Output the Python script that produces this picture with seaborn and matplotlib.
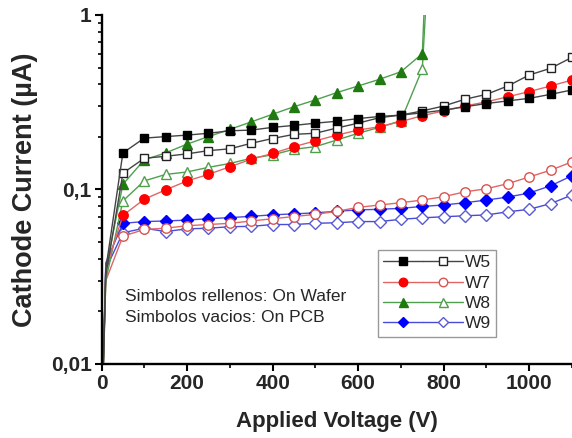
import matplotlib
matplotlib.use("Agg")
import matplotlib.pyplot as plt
import seaborn as sns
from matplotlib.lines import Line2D
from matplotlib.legend_handler import HandlerTuple
from matplotlib.ticker import FixedLocator, LogLocator, NullFormatter, FixedFormatter, MultipleLocator

# ---------------- data ----------------
voltage = [0, 10, 50, 100, 150, 200, 250, 300, 350, 400, 450, 500, 550,
           600, 650, 700, 750, 800, 850, 900, 950, 1000, 1050, 1100]

w5_wafer = [0.004, 0.035, 0.162, 0.197, 0.201, 0.205, 0.210, 0.217, 0.219, 0.227, 0.233, 0.240,
            0.246, 0.255, 0.262, 0.267, 0.275, 0.285, 0.298, 0.311, 0.322, 0.333, 0.351, 0.372]
w5_pcb = [0.004, 0.032, 0.124, 0.151, 0.155, 0.160, 0.167, 0.171, 0.184, 0.196, 0.207, 0.210,
          0.225, 0.240, 0.258, 0.267, 0.282, 0.301, 0.329, 0.351, 0.392, 0.453, 0.495, 0.572]
w7_wafer = [0.004, 0.035, 0.071, 0.088, 0.0995, 0.112, 0.122, 0.135, 0.149, 0.161, 0.176, 0.190,
            0.205, 0.219, 0.229, 0.245, 0.265, 0.282, 0.301, 0.318, 0.340, 0.364, 0.392, 0.424]
w7_pcb = [0.004, 0.030, 0.054, 0.059, 0.060, 0.062, 0.063, 0.064, 0.066, 0.068, 0.070, 0.072,
          0.075, 0.079, 0.0815, 0.084, 0.087, 0.091, 0.097, 0.101, 0.108, 0.118, 0.129, 0.144]
w9_wafer = [0.004, 0.038, 0.064, 0.0655, 0.066, 0.0668, 0.068, 0.069, 0.0702, 0.0716, 0.0725, 0.0735,
            0.075, 0.0764, 0.077, 0.078, 0.080, 0.0815, 0.084, 0.087, 0.0905, 0.0955, 0.105, 0.120]
w9_pcb = [0.004, 0.035, 0.0565, 0.060, 0.0574, 0.0595, 0.060, 0.0612, 0.0615, 0.063, 0.063, 0.064,
          0.0645, 0.0655, 0.0655, 0.0675, 0.0688, 0.0698, 0.0707, 0.0715, 0.0745, 0.077, 0.083, 0.093]

# W8 breaks down just above 750 V
voltage_w8_wafer = [0, 10, 50, 100, 150, 200, 250, 300, 350, 400, 450, 500, 550, 600, 650, 700, 750, 762]
w8_wafer = [0.004, 0.035, 0.107, 0.148, 0.162, 0.182, 0.201, 0.221, 0.244, 0.270, 0.298, 0.326,
            0.359, 0.392, 0.428, 0.473, 0.600, 3.0]
voltage_w8_pcb = [0, 10, 50, 100, 150, 200, 250, 300, 350, 400, 450, 500, 550, 600, 650, 700, 750, 768]
w8_pcb = [0.004, 0.030, 0.086, 0.112, 0.122, 0.126, 0.134, 0.141, 0.151, 0.158, 0.170, 0.176,
          0.192, 0.210, 0.227, 0.248, 0.490, 3.0]

labels = ["W5", "W7", "W8", "W9"]
y_ticks = [0.01, 0.1, 1]
y_tick_labels = ["0,01", "0,1", "1"]
x_ticks = [0, 200, 400, 600, 800, 1000]
x_tick_labels = ["0", "200", "400", "600", "800", "1000"]
note_lines = ["Simbolos rellenos: On Wafer", "Simbolos vacios: On PCB"]

# ---------------- style ----------------
sns.set_style("ticks")
plt.rcParams["font.family"] = ["Liberation Sans", "DejaVu Sans"]

fig = plt.figure(figsize=(5.72, 4.38), dpi=100)
ax = fig.add_axes([101.5 / 572, (438 - 364) / 438, (572 - 101.5) / 572, (364 - 15) / 438])

styles = {
    "W5": dict(mk="s", ms=6.0, fill="#000000", edge_open="#222222", line="#444444"),
    "W7": dict(mk="o", ms=6.8, fill="#ff0000", edge_open="#d9534f", line="#e06666"),
    "W8": dict(mk="^", ms=7.2, fill="#1f7a0f", edge_open="#4f9f4f", line="#4f9f4f"),
    "W9": dict(mk="D", ms=5.8, fill="#0000ff", edge_open="#5b5bd0", line="#4a4ad8"),
}


def draw(v, y, key, filled, mark_idx):
    st = styles[key]
    sns.lineplot(
        x=v, y=y, ax=ax, color=st["line"], lw=1.0, sort=False, estimator=None,
        marker=st["mk"], markersize=st["ms"],
        markerfacecolor=st["fill"] if filled else "white",
        markeredgecolor=st["fill"] if filled else st["edge_open"],
        markeredgewidth=1.0, markevery=mark_idx,
    )


full_idx = list(range(2, len(voltage)))
w8_idx = list(range(2, len(voltage_w8_wafer) - 1))

draw(voltage, w9_pcb, "W9", False, full_idx)
draw(voltage, w9_wafer, "W9", True, full_idx)
draw(voltage, w7_pcb, "W7", False, full_idx)
draw(voltage_w8_pcb, w8_pcb, "W8", False, w8_idx)
draw(voltage, w7_wafer, "W7", True, full_idx)
draw(voltage_w8_wafer, w8_wafer, "W8", True, w8_idx)
draw(voltage, w5_pcb, "W5", False, full_idx)
draw(voltage, w5_wafer, "W5", True, full_idx)

ax.set_yscale("log")
ax.set_ylim(0.01, 1)
ax.set_xlim(0, 1100)

ax.yaxis.set_major_locator(FixedLocator(y_ticks))
ax.yaxis.set_major_formatter(FixedFormatter(y_tick_labels))
ax.yaxis.set_minor_locator(LogLocator(base=10, subs=range(2, 10)))
ax.yaxis.set_minor_formatter(NullFormatter())
ax.xaxis.set_major_locator(FixedLocator(x_ticks))
ax.xaxis.set_major_formatter(FixedFormatter(x_tick_labels))
ax.xaxis.set_minor_locator(MultipleLocator(100))

for side in ["top", "right"]:
    ax.spines[side].set_visible(False)
for side in ["left", "bottom"]:
    ax.spines[side].set_linewidth(1.7)
    ax.spines[side].set_color("black")

ax.tick_params(which="major", direction="out", length=5, width=1.5, color="black",
               labelsize=15, pad=2)
ax.tick_params(which="minor", direction="out", length=3, width=1.2, color="black")
for lab in ax.get_xticklabels() + ax.get_yticklabels():
    lab.set_fontweight("bold")

ax.set_xlabel("Applied Voltage (V)", fontsize=16, fontweight="bold")
ax.set_ylabel("Cathode Current (\u00b5A)", fontsize=19.5, fontweight="bold")
ax.xaxis.set_label_coords(0.5, -0.135)
ax.yaxis.set_label_coords(-0.135, 0.5)

ax.text(0.05, 0.193, note_lines[0], transform=ax.transAxes, fontsize=12.5, va="center", ha="left")
ax.text(0.05, 0.134, note_lines[1], transform=ax.transAxes, fontsize=12.5, va="center", ha="left")

# legend: filled marker (wafer) and open marker (PCB) per wafer
handles = []
for key in labels:
    st = styles[key]
    h_f = Line2D([], [], color=st["line"], lw=1.0, marker=st["mk"], markersize=st["ms"] * 0.9,
                 markerfacecolor=st["fill"], markeredgecolor=st["fill"])
    h_o = Line2D([], [], color=st["line"], lw=1.0, marker=st["mk"], markersize=st["ms"] * 0.9,
                 markerfacecolor="white", markeredgecolor=st["edge_open"])
    handles.append((h_f, h_o))

leg = ax.legend(handles, labels, handler_map={tuple: HandlerTuple(ndivide=None, pad=0)},
                loc="upper left", bbox_to_anchor=(0.587, 0.327), borderaxespad=0,
                fontsize=12.5, handlelength=4.6, handletextpad=0.1, labelspacing=0.3,
                borderpad=0.3, fancybox=False, framealpha=1, edgecolor="#999999",
                numpoints=1)
leg.get_frame().set_linewidth(1.0)

fig.savefig("out.png", dpi=100)
